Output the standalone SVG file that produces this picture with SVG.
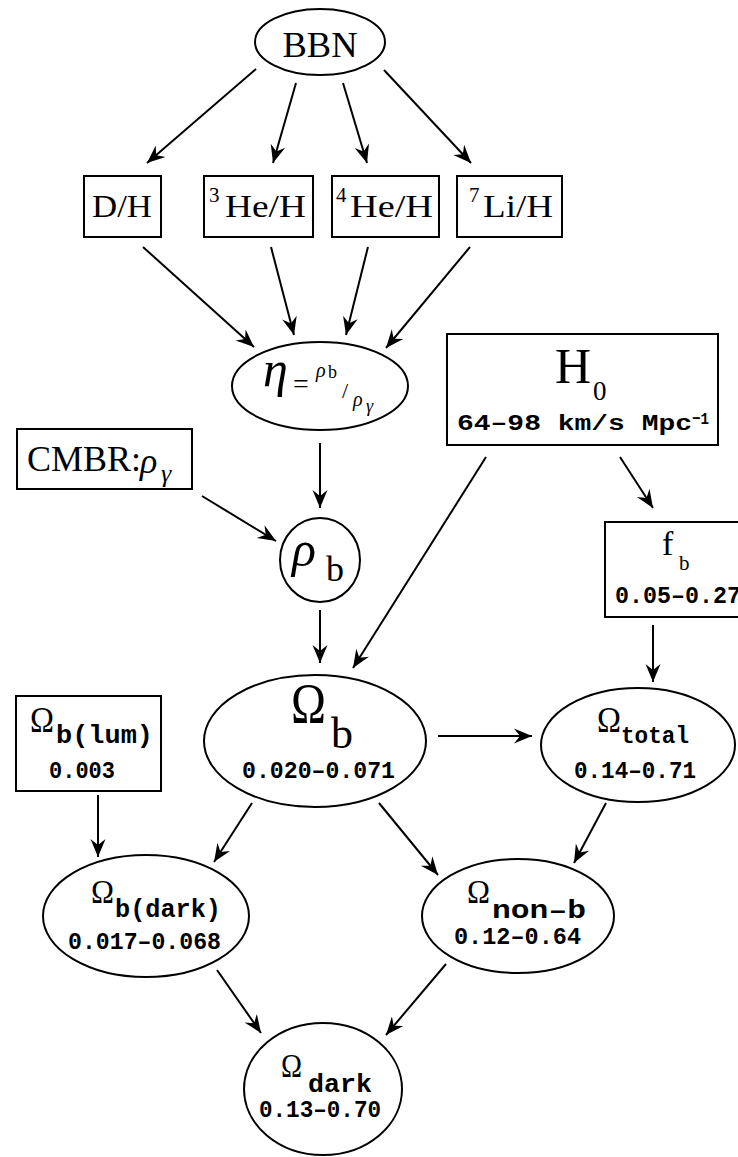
<svg xmlns="http://www.w3.org/2000/svg" width="738" height="1157" viewBox="0 0 738 1157">
<style>
.n{fill:#fff;stroke:#000;stroke-width:2}
.r{font-family:"Liberation Serif",serif;fill:#000}
.i{font-family:"Liberation Serif",serif;font-style:italic;fill:#000}
.m{font-family:"Liberation Mono",monospace;font-weight:bold;fill:#000}
.c line{stroke:#000;stroke-width:2;marker-end:url(#ah)}
</style>
<defs>
<marker id="ah" viewBox="-19 -8 20 16" refX="0" refY="0" markerWidth="20" markerHeight="16" orient="auto" markerUnits="userSpaceOnUse">
<path d="M0,0 L-18,-7.5 L-12,0 L-18,7.5 Z" fill="#000"/>
</marker>
</defs>
<rect width="738" height="1157" fill="#fff"/>
<g class="c" id="connectors">
<line x1="256" y1="69" x2="147" y2="163"/>
<line x1="296" y1="83" x2="273" y2="163"/>
<line x1="343" y1="83" x2="367" y2="163"/>
<line x1="384" y1="70" x2="471" y2="163"/>
<line x1="143" y1="247" x2="254" y2="347"/>
<line x1="271" y1="247" x2="294" y2="335"/>
<line x1="368" y1="247" x2="346" y2="335"/>
<line x1="470" y1="247" x2="386" y2="348"/>
<line x1="320" y1="443" x2="320" y2="508"/>
<line x1="202" y1="496" x2="276" y2="541"/>
<line x1="486" y1="457" x2="353" y2="668"/>
<line x1="620" y1="457" x2="653" y2="508"/>
<line x1="320" y1="610" x2="320" y2="663"/>
<line x1="653" y1="625" x2="653" y2="682"/>
<line x1="438" y1="736" x2="532" y2="736"/>
<line x1="98" y1="795" x2="98" y2="857"/>
<line x1="252" y1="803" x2="214" y2="862"/>
<line x1="379" y1="803" x2="438" y2="875"/>
<line x1="606" y1="803" x2="574" y2="863"/>
<line x1="217" y1="970" x2="261" y2="1033"/>
<line x1="446" y1="964" x2="386" y2="1035"/>
</g>
<g id="bbn">
<ellipse class="n" cx="320" cy="42" rx="65" ry="33"/>
<text class="r" x="320" y="57" font-size="36" text-anchor="middle" textLength="75" lengthAdjust="spacingAndGlyphs">BBN</text>
</g>
<g id="dh">
<rect class="n" x="84" y="176" width="77" height="61"/>
<text class="r" x="92" y="217" font-size="32" textLength="60" lengthAdjust="spacingAndGlyphs">D/H</text>
</g>
<g id="he3">
<rect class="n" x="204" y="176" width="109" height="61"/>
<text class="r" x="209" y="202" font-size="21">3</text>
<text class="r" x="225" y="217" font-size="32" textLength="81" lengthAdjust="spacingAndGlyphs">He/H</text>
</g>
<g id="he4">
<rect class="n" x="332" y="176" width="107" height="61"/>
<text class="r" x="336" y="202" font-size="21">4</text>
<text class="r" x="350" y="217" font-size="32" textLength="83" lengthAdjust="spacingAndGlyphs">He/H</text>
</g>
<g id="li7">
<rect class="n" x="457" y="176" width="105" height="61"/>
<text class="r" x="469" y="202" font-size="21">7</text>
<text class="r" x="483" y="217" font-size="32" textLength="70" lengthAdjust="spacingAndGlyphs">Li/H</text>
</g>
<g id="eta">
<ellipse class="n" cx="320" cy="386" rx="88" ry="44"/>
<text class="i" x="263" y="386" font-size="50">η</text>
<text class="r" x="293" y="393" font-size="28">=</text>
<text class="i" x="316" y="377" font-size="20">ρ</text>
<text class="r" x="328" y="378" font-size="18">b</text>
<text class="r" x="342" y="398" font-size="22">/</text>
<text class="i" x="353" y="406" font-size="20">ρ</text>
<text class="i" x="366" y="412" font-size="18">γ</text>
</g>
<g id="cmbr">
<rect class="n" x="17" y="429" width="175" height="60"/>
<text class="r" x="27" y="471" font-size="36" textLength="114" lengthAdjust="spacingAndGlyphs">CMBR:</text>
<text class="i" x="140" y="473" font-size="36">ρ</text>
<text class="i" x="161" y="482" font-size="26">γ</text>
</g>
<g id="rhob">
<ellipse class="n" cx="320" cy="560" rx="40" ry="42"/>
<text class="i" x="292" y="566" font-size="50">ρ</text>
<text class="r" x="326" y="581" font-size="36">b</text>
</g>
<g id="h0">
<rect class="n" x="447" y="334" width="271" height="111"/>
<text class="r" x="555" y="383" font-size="50">H</text>
<text class="r" x="593" y="400" font-size="27">0</text>
<text class="m" x="457" y="430" font-size="22" textLength="235" lengthAdjust="spacingAndGlyphs">64–98 km/s Mpc</text>
<text class="m" x="692" y="424" font-size="17" textLength="17" lengthAdjust="spacingAndGlyphs">−1</text>
</g>
<g id="fb">
<rect class="n" x="605" y="522" width="145" height="95"/>
<text class="r" x="662" y="555" font-size="34">f</text>
<text class="r" x="679" y="570" font-size="21">b</text>
<text class="m" x="615" y="603" font-size="23" textLength="126" lengthAdjust="spacingAndGlyphs">0.05–0.27</text>
</g>
<g id="omegab">
<ellipse class="n" cx="315" cy="741" rx="111" ry="66"/>
<text class="r" x="291" y="723" font-size="58" textLength="35" lengthAdjust="spacingAndGlyphs">Ω</text>
<text class="r" x="331" y="748" font-size="44">b</text>
<text class="m" x="242" y="778" font-size="23" textLength="153" lengthAdjust="spacingAndGlyphs">0.020–0.071</text>
</g>
<g id="omegatotal">
<ellipse class="n" cx="638" cy="745" rx="97" ry="57"/>
<text class="r" x="597" y="732" font-size="36" textLength="24" lengthAdjust="spacingAndGlyphs">Ω</text>
<text class="m" x="621" y="743" font-size="24" textLength="68" lengthAdjust="spacingAndGlyphs">total</text>
<text class="m" x="574" y="778" font-size="23" textLength="122" lengthAdjust="spacingAndGlyphs">0.14–0.71</text>
</g>
<g id="omegalum">
<rect class="n" x="16" y="696" width="145" height="95"/>
<text class="r" x="30" y="732" font-size="36" textLength="24" lengthAdjust="spacingAndGlyphs">Ω</text>
<text class="m" x="56" y="743" font-size="26" textLength="97" lengthAdjust="spacingAndGlyphs">b(lum)</text>
<text class="m" x="49" y="778" font-size="23" textLength="66" lengthAdjust="spacingAndGlyphs">0.003</text>
</g>
<g id="omegabdark">
<ellipse class="n" cx="146" cy="916" rx="103" ry="61"/>
<text class="r" x="91" y="903" font-size="34" textLength="23" lengthAdjust="spacingAndGlyphs">Ω</text>
<text class="m" x="115" y="917" font-size="26" textLength="106" lengthAdjust="spacingAndGlyphs">b(dark)</text>
<text class="m" x="68" y="949" font-size="23" textLength="153" lengthAdjust="spacingAndGlyphs">0.017–0.068</text>
</g>
<g id="omeganonb">
<ellipse class="n" cx="518" cy="916" rx="96" ry="57"/>
<text class="r" x="467" y="903" font-size="34" textLength="23" lengthAdjust="spacingAndGlyphs">Ω</text>
<text class="m" x="492" y="918" font-size="26" textLength="94" lengthAdjust="spacingAndGlyphs">non–b</text>
<text class="m" x="454" y="944" font-size="23" textLength="127" lengthAdjust="spacingAndGlyphs">0.12–0.64</text>
</g>
<g id="omegadark">
<ellipse class="n" cx="323" cy="1089" rx="79" ry="66"/>
<text class="r" x="281" y="1077" font-size="34" textLength="21" lengthAdjust="spacingAndGlyphs">Ω</text>
<text class="m" x="308" y="1092" font-size="26" textLength="64" lengthAdjust="spacingAndGlyphs">dark</text>
<text class="m" x="259" y="1117" font-size="23" textLength="122" lengthAdjust="spacingAndGlyphs">0.13–0.70</text>
</g>
</svg>
